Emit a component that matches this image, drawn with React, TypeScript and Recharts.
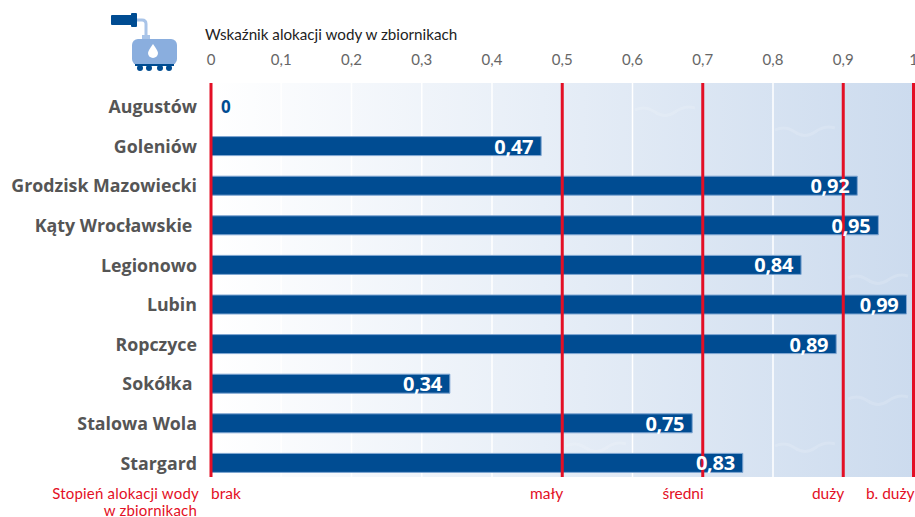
import { BarChart, Bar, XAxis, YAxis, CartesianGrid, ReferenceLine, ReferenceDot, LabelList } from "recharts"

const cities = [
    "Augustów",
    "Goleniów",
    "Grodzisk Mazowiecki",
    "Kąty Wrocławskie\u00a0",
    "Legionowo",
    "Lubin",
    "Ropczyce",
    "Sokółka\u00a0",
    "Stalowa Wola",
    "Stargard",
]
// the printed labels and the drawn bar lengths disagree for the last two rows in the original
const printedValues = ["0", "0,47", "0,92", "0,95", "0,84", "0,99", "0,89", "0,34", "0,75", "0,83"]
const barLengths = [0, 0.47, 0.92, 0.95, 0.84, 0.99, 0.89, 0.34, 0.685, 0.757]

const topTicks = [0, 0.1, 0.2, 0.3, 0.4, 0.5, 0.6, 0.7, 0.8, 0.9, 1]
const levelTicks = [0, 0.5, 0.7, 0.9, 1]
const levelNames = ["brak", "mały", "średni", "duży", "b. duży"]

const data = cities.map((city, i) => ({ city, length: barLengths[i], printed: printedValues[i] }))

const FONT = "Lato, 'Open Sans', sans-serif"
const BOLD_FONT = "'Open Sans', sans-serif"
const RED = "#e30f25"
const BLUE = "#004c92"

function LevelLabel({ viewBox, index }: any) {
    return (
        <text
            x={viewBox.x + (index === 0 ? 0 : 1)}
            y={493}
            textAnchor={index === 0 ? "start" : "end"}
            fontSize={15.5}
            fontFamily={FONT}
            fill={RED}
            dominantBaseline="central"
        >
            {levelNames[index]}
        </text>
    )
}

function ZeroLabel({ viewBox }: any) {
    return (
        <text x={viewBox.x + 10} y={viewBox.y} fontSize={17} fontWeight={700} fontFamily={BOLD_FONT} fill={BLUE} dominantBaseline="central">
            {printedValues[0]}
        </text>
    )
}

function ValueLabel({ x, y, width, height, value }: any) {
    if (String(value) === "0") return null
    return (
        <text x={x + width - 8} y={y + height / 2} textAnchor="end" fontSize={20} fontWeight={700} letterSpacing={-0.3} fontFamily={BOLD_FONT} fill="#fff" dominantBaseline="central">
            {value}
        </text>
    )
}

function TankIcon() {
    return (
        <g>
            <path d="M136 20 H142 Q146 20 146 24 V38" fill="none" stroke="#a9c4e8" strokeWidth={3} />
            <rect x={111} y={15} width={21} height={10} fill={BLUE} rx={1} />
            <rect x={131} y={13} width={6} height={14} fill={BLUE} rx={1} />
            <rect x={142} y={35} width={8} height={4} fill="#a9c4e8" />
            <rect x={132} y={39} width={45} height={26} rx={6} fill="#8aaede" />
            <rect x={135} y={64} width={39} height={2} fill={BLUE} />
            {[140, 149, 160, 169].map((cx) => (
                <circle key={cx} cx={cx} cy={68} r={3} fill={BLUE} />
            ))}
            <path d="M153 44 Q158 51 158 53 A5 5 0 0 1 148 53 Q148 51 153 44 Z" fill="#fff" />
        </g>
    )
}

function Wave({ x, y }: { x: number; y: number }) {
    return (
        <path
            d={`M${x} ${y} q10 -5 20 2 t20 0 t20 -4`}
            fill="none"
            stroke="#fff"
            strokeOpacity={0.14}
            strokeWidth={3}
        />
    )
}

export default function App() {
    return (
        <div style={{ position: "absolute", left: 0, top: 0, width: 915, height: 517, overflow: "hidden" }}>
            <BarChart
                width={915}
                height={517}
                data={data}
                layout="vertical"
                margin={{ top: 53, right: 1.5, bottom: 40, left: 0 }}
            >
                <defs>
                    <linearGradient id="bgFade" x1="0" y1="0" x2="1" y2="0">
                        <stop offset="0%" stopColor="#ffffff" />
                        <stop offset="100%" stopColor="#ccdbee" />
                    </linearGradient>
                </defs>
                <CartesianGrid xAxisId="top" horizontal={false} stroke="#fff" strokeWidth={1.5} fill="url(#bgFade)" fillOpacity={1} />
                <Wave x={635} y={110} />
                <Wave x={775} y={130} />
                <Wave x={848} y={278} />
                <Wave x={848} y={399} />
                <Wave x={566} y={446} />
                <Wave x={775} y={446} />
                <XAxis
                    xAxisId="top"
                    orientation="top"
                    type="number"
                    domain={[0, 1]}
                    ticks={topTicks}
                    height={30}
                    axisLine={false}
                    tickLine={false}
                    interval={0}
                    tickMargin={12}
                    tickFormatter={(v: number) => String(v).replace(".", ",")}
                    tick={{ fill: "#666", fontSize: 15, fontFamily: FONT }}
                />
                <YAxis
                    type="category"
                    dataKey="city"
                    width={211}
                    interval={0}
                    axisLine={false}
                    tickLine={false}
                    tickMargin={8}
                    padding={{ top: 4, bottom: -6 }}
                    tick={{ fill: "#555", fontSize: 17.8, fontWeight: 700, fontFamily: BOLD_FONT }}
                />
                <Bar
                    xAxisId="top"
                    dataKey="length"
                    barSize={19}
                    fill={BLUE}
                    stroke="#7fa6d2"
                    strokeWidth={1}
                    isAnimationActive={false}
                >
                    <LabelList dataKey="printed" content={<ValueLabel />} />
                </Bar>
                {levelTicks.map((v, i) => (
                    <ReferenceLine
                        key={v}
                        xAxisId="top"
                        x={v}
                        stroke={RED}
                        strokeWidth={3}
                        ifOverflow="visible"
                        label={<LevelLabel index={i} />}
                    />
                ))}
                <ReferenceDot
                    xAxisId="top"
                    x={barLengths[0]}
                    y={cities[0]}
                    r={0}
                    fill="none"
                    stroke="none"
                    ifOverflow="visible"
                    label={<ZeroLabel />}
                />
                <text x={205} y={34} fontSize={15.2} fontFamily={FONT} fill="#222" dominantBaseline="central">
                    Wskaźnik alokacji wody w zbiornikach
                </text>
                <text x={199} y={492.5} textAnchor="end" fontSize={15} letterSpacing={0.2} fontFamily={FONT} fill={RED} dominantBaseline="central">
                    Stopień alokacji wody
                </text>
                <text x={197} y={510} textAnchor="end" fontSize={15} letterSpacing={0.2} fontFamily={FONT} fill={RED} dominantBaseline="central">
                    w zbiornikach
                </text>
                <TankIcon />
            </BarChart>
        </div>
    )
}
